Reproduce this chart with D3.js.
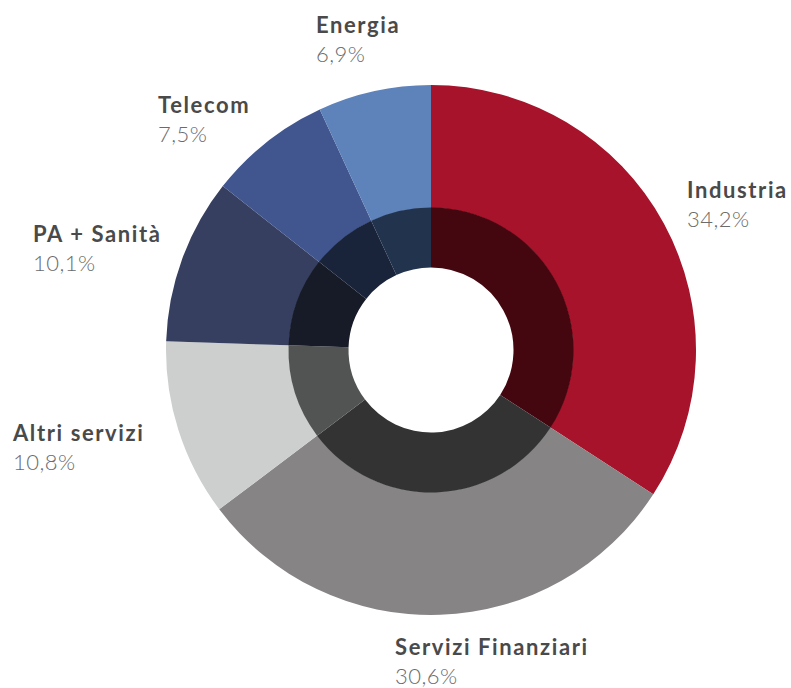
<!DOCTYPE html>
<html>
<head>
<meta charset="utf-8">
<script src="https://cdn.jsdelivr.net/npm/d3@7"></script>
<style>
  body { margin: 0; background: #fff; }
  text { font-family: Lato, "Open Sans", sans-serif; }
</style>
</head>
<body>
<div id="chart"></div>
<script>
// data
var categories = ["Industria", "Servizi Finanziari", "Altri servizi", "PA + Sanità", "Telecom", "Energia"];
var values = [34.2, 30.6, 10.8, 10.1, 7.5, 6.9];
var outerColors = ["#a6132a", "#868485", "#cdcfce", "#363f5f", "#41568f", "#5e82ba"];
var innerColors = ["#45070f", "#333333", "#525453", "#161b27", "#19233a", "#22334d"];

// label anchor (left edge, baseline of first line)
var labelPos = [[687, 198], [395, 655], [13, 441], [33, 242], [158, 113], [316, 33]];

var width = 791, height = 688;
var cx = 431, cy = 350;

var svg = d3.select("#chart")
  .append("svg")
    .attr("width", width)
    .attr("height", height);

var g = svg.append("g")
    .attr("transform", "translate(" + cx + "," + cy + ")");

var data = categories.map(function(c, i) { return {name: c, value: values[i], i: i}; });

var pie = d3.pie()
    .sort(null)
    .value(function(d) { return d.value; });

var arcs = pie(data);

var outerArc = d3.arc().innerRadius(142).outerRadius(265);
var innerArc = d3.arc().innerRadius(82.5).outerRadius(142.5);

// outer ring
g.selectAll(".outer")
  .data(arcs)
  .enter()
  .append("path")
    .attr("class", "outer")
    .attr("d", outerArc)
    .attr("fill", function(d) { return outerColors[d.data.i]; });

// inner ring (darker)
g.selectAll(".inner")
  .data(arcs)
  .enter()
  .append("path")
    .attr("class", "inner")
    .attr("d", innerArc)
    .attr("fill", function(d) { return innerColors[d.data.i]; });

// labels
var fmt = function(v) { return d3.format(".1f")(v).replace(".", ",") + "%"; };

var labels = svg.selectAll(".label")
  .data(data)
  .enter()
  .append("g")
    .attr("class", "label")
    .attr("transform", function(d) { return "translate(" + labelPos[d.i][0] + "," + labelPos[d.i][1] + ")"; });

labels.append("text")
    .attr("font-size", 22)
    .attr("font-weight", 700)
    .attr("letter-spacing", 1.6)
    .attr("fill", "#4a4a4a")
    .text(function(d) { return d.name; });

labels.append("text")
    .attr("y", 29)
    .attr("font-size", 22)
    .attr("font-weight", 300)
    .attr("letter-spacing", 0.5)
    .attr("fill", "#6b6b6b")
    .text(function(d) { return fmt(d.value); });
</script>
</body>
</html>
